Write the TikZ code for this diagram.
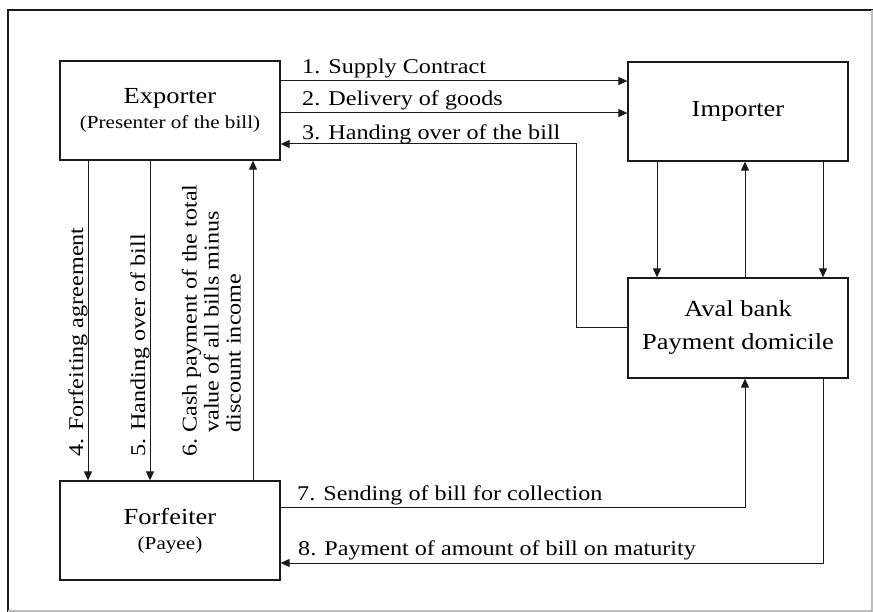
\documentclass[tikz,border=0pt]{standalone}
\usepackage{fontspec}
\setmainfont[FakeStretch=1.15]{Liberation Serif}
\usetikzlibrary{arrows.meta}

\definecolor{ink}{HTML}{1A1A1A}
\definecolor{rim}{HTML}{BDBDBD}

\tikzset{
  party/.style={draw=ink, line width=1.3pt, minimum width=220pt, minimum height=99pt,
    inner sep=0pt, align=center, text=black},
  flow/.style={draw=ink, line width=1pt, -{Triangle[length=9pt,width=8pt]}},
  lbl/.style={inner sep=0pt, anchor=base west, text=black, font=\fontsize{21}{22}\selectfont},
  vlbl/.style={lbl, rotate=90},
  big/.style={font=\fontsize{23}{33}\selectfont},
}
\newcommand{\subline}[1]{{\fontsize{18.4}{25}\selectfont #1}}

\begin{document}
\begin{tikzpicture}[x=1pt, y=-1pt]
  \useasboundingbox (0,0) rectangle (873,612);

  % outer frame: dark top/left, faint right/bottom
  \draw[ink, line width=1.6pt] (8,612) -- (8,10) -- (873,10);
  \draw[rim, line width=1.2pt] (872,10) -- (872,611) -- (8,611);

  % parties
  \node[party, font=\fontsize{23}{25}\selectfont] (exp) at (170,110.5)
    {Exporter\\\subline{(Presenter of the bill)}};
  \node[party, big] (imp) at (738,111.5) {Importer};
  \node[party, big, minimum height=100pt] (aval) at (738,328)
    {Aval bank\\Payment domicile};
  \node[party, font=\fontsize{23}{25}\selectfont] (forf) at (170,530.5)
    {Forfeiter\\\subline{(Payee)}};

  % reference levels for the connectors
  \coordinate (r1) at (0,81);
  \coordinate (r2) at (0,113);
  \coordinate (c3) at (576,144);
  \coordinate (r7) at (0,507);
  \coordinate (r8) at (0,563);
  \coordinate (v4) at (88,0);
  \coordinate (v5) at (150,0);
  \coordinate (v6) at (253,0);
  \coordinate (d1) at (657,0);
  \coordinate (d2) at (745,0);
  \coordinate (d3) at (823,0);

  % exporter <-> importer
  \draw[flow] (exp.east |- r1) -- (imp.west |- r1);
  \draw[flow] (exp.east |- r2) -- (imp.west |- r2);
  \draw[flow] (aval.west) -| (c3) -- (exp.east |- c3);

  % importer <-> aval bank
  \draw[flow] (imp.south -| d1) -- (aval.north -| d1);
  \draw[flow] (aval.north -| d2) -- (imp.south -| d2);
  \draw[flow] (imp.south -| d3) -- (aval.north -| d3);

  % exporter <-> forfeiter
  \draw[flow] (exp.south -| v4) -- (forf.north -| v4);
  \draw[flow] (exp.south -| v5) -- (forf.north -| v5);
  \draw[flow] (forf.north -| v6) -- (exp.south -| v6);

  % forfeiter <-> aval bank
  \draw[flow] (forf.east |- r7) -| (aval.south -| d2);
  \draw[flow] (aval.south -| d3) |- (forf.east |- r8);

  % step labels
  \node[lbl] (l1) at (302,74) {1. Supply Contract};
  \node[lbl] (l2) at (302,106) {2. Delivery of goods};
  \node[lbl] (l3) at (302,140) {3. Handing over of the bill};
  \node[vlbl] (l4) at (83,457) {4. Forfeiting agreement};
  \node[vlbl] (l5) at (145,457) {5. Handing over of bill};
  \node[vlbl, anchor=north west] (l6) at (181,457)
    {\begin{tabular}{@{}l@{\ }l@{}}6. & Cash payment of the total\\
      & value of all bills minus\\ & discount income\end{tabular}};
  \node[lbl] (l7) at (297,500) {7. Sending of bill for collection};
  \node[lbl] (l8) at (298,555) {8. Payment of amount of bill on maturity};
\end{tikzpicture}
\end{document}
